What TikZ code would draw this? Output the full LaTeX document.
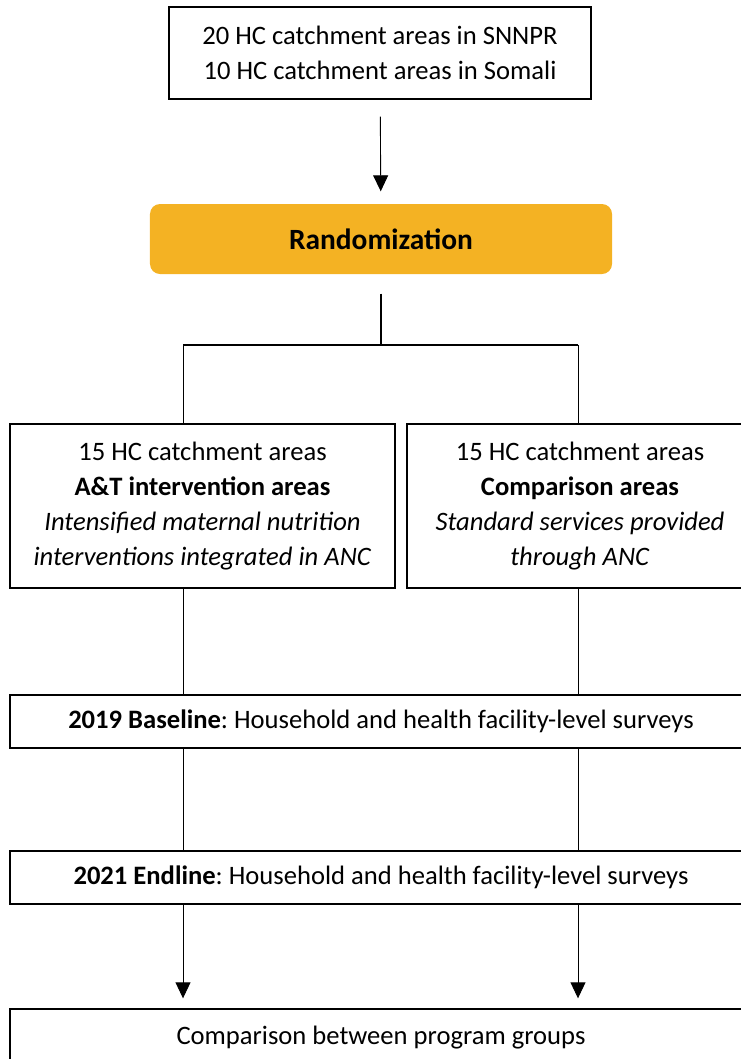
\documentclass[tikz,border=0pt]{standalone}
\usepackage{fontspec}
\setmainfont{Carlito}
\frenchspacing
\usetikzlibrary{arrows.meta}

\definecolor{randorange}{HTML}{F4B223}

\tikzset{
  box/.style={draw, line width=1.4bp, inner sep=0pt, align=center,
    font=\fontsize{26.7}{35}\selectfont},
  link/.style={line width=0.9bp},
  arrow/.style={link, -{Triangle[width=15bp,length=16bp]}},
}

\begin{document}
\begin{tikzpicture}[x=1bp, y=-1bp]
    \useasboundingbox (0,0) rectangle (741,1059);
    \clip (0,0) rectangle (741,1059);

%boxes
    \node[box, minimum width=422bp, minimum height=92bp] (areas) at (380,53)
        {20 HC catchment areas in SNNPR\\10 HC catchment areas in Somali};
    \node[box, draw=none, fill=randorange, rounded corners=10bp,
        minimum width=462bp, minimum height=70bp,
        font=\fontsize{29.5}{35}\selectfont\bfseries] (rand) at (381,239)
        {Randomization};

    \node[box, minimum width=385bp, minimum height=164bp] (treat) at (202.5,506)
        {15 HC catchment areas\\ \textbf{A\&T intervention areas}\\
         \textit{Intensified maternal nutrition}\\
         \textit{interventions integrated in ANC}};
    \node[box, minimum width=346bp, minimum height=164bp] (comp) at (580,506)
        {15 HC catchment areas\\ \textbf{Comparison areas}\\
         \textit{Standard services provided}\\ \textit{through ANC}};

    \node[box, minimum width=742bp, minimum height=53bp] (base) at (381,721.5)
        {\textbf{2019 Baseline}: Household and health facility-level surveys};
    \node[box, minimum width=742bp, minimum height=53bp] (end) at (381,877.5)
        {\textbf{2021 Endline}: Household and health facility-level surveys};
    \node[box, minimum width=742bp, minimum height=58bp] (result) at (381,1038)
        {Comparison between program groups};

%randomization
    \draw[arrow, shorten <=17bp, shorten >=12bp] (areas) -- (rand);

    \coordinate (split) at (381,345);
    \coordinate (lsplit) at (183,345);
    \coordinate (rsplit) at (578,345);
    \draw[line width=2bp, shorten <=19bp] (rand.south) -- (split);
    \draw[line width=2bp] (lsplit) -- (rsplit);
    \draw[link] (lsplit) -- (lsplit |- treat.north);
    \draw[link] (rsplit) -- (rsplit |- comp.north);

%surveys
    \draw[link] (lsplit |- treat.south) -- (lsplit |- base.north);
    \draw[link] (rsplit |- comp.south) -- (rsplit |- base.north);
    \draw[link] (lsplit |- base.south) -- (lsplit |- end.north);
    \draw[link] (rsplit |- base.south) -- (rsplit |- end.north);

%comparison
    \draw[arrow, shorten >=10bp] (lsplit |- end.south) -- (lsplit |- result.north);
    \draw[arrow, shorten >=10bp] (rsplit |- end.south) -- (rsplit |- result.north);

\end{tikzpicture}
\end{document}
